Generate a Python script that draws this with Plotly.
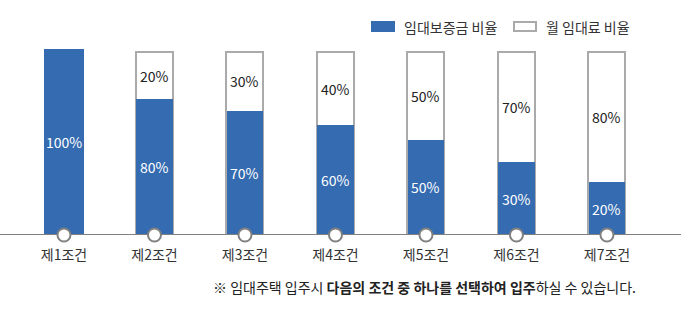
import plotly.graph_objects as go

# ---- data ----
categories = ["제1조건", "제2조건", "제3조건", "제4조건", "제5조건", "제6조건", "제7조건"]
deposit_pct = [100, 80, 70, 60, 50, 30, 20]          # 임대보증금 비율 (label)
rent_pct = [0, 20, 30, 40, 50, 70, 80]               # 월 임대료 비율 (label)
deposit_height = [100, 73.1, 66.7, 59.1, 51.1, 39.2, 28.5]   # drawn height of blue part
frame_height = [None, 98.4, 98.4, 98.4, 98.4, 98.4, 98.4]    # drawn height of outlined bar
legend_names = ["임대보증금 비율", "월 임대료 비율"]
footnote_parts = ["※ 임대주택 입주시 ", "다음의 조건 중 하나를 선택하여 입주", "하실 수 있습니다."]

BLUE = "#346bb1"
GRAY_BORDER = "#aaaaaa"
AXIS_GRAY = "#808080"
FONT = "Noto Sans CJK KR"

W, H = 681, 309
x = list(range(len(categories)))
xmin, xmax = -0.707, 6.818
upx = (xmax - xmin) / W  # data units per pixel

fig = go.Figure()

# outlined (monthly rent) frame bars
fig.add_trace(go.Bar(
    x=x, y=frame_height, width=37 * upx,
    marker=dict(color="white", line=dict(color=GRAY_BORDER, width=2)),
    hoverinfo="skip", showlegend=False,
))
# blue (deposit) bars
blue_widths = [40 * upx if (r == 0) else 36.5 * upx for r in rent_pct]
fig.add_trace(go.Bar(
    x=x, y=deposit_height, width=blue_widths,
    marker=dict(color=BLUE, line=dict(width=0)),
    hoverinfo="skip", showlegend=False,
))
# baseline
fig.add_trace(go.Scatter(
    x=[xmin, xmax], y=[0, 0], mode="lines",
    line=dict(color=AXIS_GRAY, width=2),
    cliponaxis=False, hoverinfo="skip", showlegend=False,
))
# circles on baseline
fig.add_trace(go.Scatter(
    x=x, y=[0] * len(x), mode="markers",
    marker=dict(size=13, color="white", line=dict(color=AXIS_GRAY, width=2)),
    cliponaxis=False, hoverinfo="skip", showlegend=False,
))

annotations = []
for i in x:
    d = deposit_height[i]
    annotations.append(dict(
        x=i, y=d / 2, xref="x", yref="y", text=f"{deposit_pct[i]}%",
        showarrow=False, font=dict(family=FONT, size=14, color="white"),
        xanchor="center", yanchor="middle"))
    if rent_pct[i] > 0 and frame_height[i] is not None:
        annotations.append(dict(
            x=i, y=(d + frame_height[i]) / 2, xref="x", yref="y", text=f"{rent_pct[i]}%",
            showarrow=False, font=dict(family=FONT, size=14, color="#222222"),
            xanchor="center", yanchor="middle"))

# plot area in pixels: y 49 (top) .. 235 (bottom)
top_px, bot_px = 49, 235
def py(p):
    return (bot_px - p) / (bot_px - top_px)

# manual legend
shapes = [
    dict(type="rect", xref="paper", yref="paper",
         x0=371 / W, x1=395 / W, y0=py(32), y1=py(21),
         fillcolor=BLUE, line=dict(width=0)),
    dict(type="rect", xref="paper", yref="paper",
         x0=514 / W, x1=536 / W, y0=py(31), y1=py(22),
         fillcolor="white", line=dict(color=GRAY_BORDER, width=2)),
]
annotations.append(dict(x=402 / W, y=py(26.5), xref="paper", yref="paper",
                        text=legend_names[0], showarrow=False, xanchor="left", yanchor="middle",
                        font=dict(family=FONT, size=14, color="#333333")))
annotations.append(dict(x=544 / W, y=py(26.5), xref="paper", yref="paper",
                        text=legend_names[1], showarrow=False, xanchor="left", yanchor="middle",
                        font=dict(family=FONT, size=14, color="#333333")))
# footnote
annotations.append(dict(x=638 / W, y=py(287), xref="paper", yref="paper",
                        text=footnote_parts[0] + "<b>" + footnote_parts[1] + "</b>" + footnote_parts[2],
                        showarrow=False, xanchor="right", yanchor="middle",
                        font=dict(family=FONT, size=14, color="#222222")))

fig.update_layout(
    width=W, height=H,
    margin=dict(l=0, r=0, t=top_px, b=H - bot_px, pad=0),
    barmode="overlay", bargap=0,
    plot_bgcolor="white", paper_bgcolor="white",
    showlegend=False,
    xaxis=dict(range=[xmin, xmax], tickvals=x, ticktext=categories,
               showgrid=False, zeroline=False, showline=False, ticks="",
               ticklabelstandoff=10,
               tickfont=dict(family=FONT, size=14, color="#333333"), fixedrange=True),
    yaxis=dict(range=[0, 100], showgrid=False, zeroline=False, showline=False,
               showticklabels=False, ticks="", fixedrange=True),
    shapes=shapes, annotations=annotations,
)

fig.write_html("out.html")
